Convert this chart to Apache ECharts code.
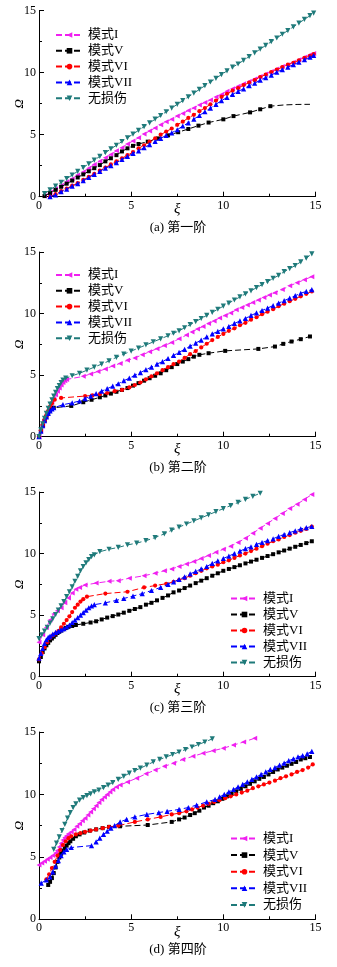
<!DOCTYPE html>
<html><head><meta charset="utf-8">
<script src="https://cdn.jsdelivr.net/npm/echarts@6/dist/echarts.min.js"></script>
<style>html,body{margin:0;padding:0;background:#fff}#c{width:337px;height:967px}</style>
</head><body><div id="c"></div>
<script>
const seriesNames = ['模式I','模式V','模式VI','模式VII','无损伤'];
const captions = ['(a) 第一阶','(b) 第二阶','(c) 第三阶','(d) 第四阶'];
const xTicks = [0,5,10,15];
const yTicks = [0,5,10,15];

// ---- Panel (a) ----
const a_I = [[0.3,0.05],[0.6,0.35],[0.9,0.65],[1.2,0.9],[1.5,1.2],[1.8,1.45],[2.1,1.75],[2.4,2.0],[2.7,2.3],[3.0,2.6],[3.3,2.85],[3.6,3.15],[3.9,3.4],[4.2,3.7],[4.5,3.95],[4.8,4.25],[5.1,4.5],[5.4,4.75],[5.7,5.05],[6.0,5.3],[6.3,5.55],[6.6,5.8],[6.9,6.05],[7.2,6.25],[7.5,6.5],[7.8,6.7],[8.1,6.95],[8.4,7.15],[8.7,7.4],[9.0,7.6],[9.3,7.8],[9.6,8.05],[9.9,8.25],[10.2,8.5],[10.5,8.7],[10.8,8.9],[11.1,9.1],[11.4,9.3],[11.7,9.5],[12.0,9.7],[12.3,9.9],[12.6,10.1],[12.9,10.3],[13.2,10.5],[13.5,10.65],[13.8,10.85],[14.1,11.05],[14.4,11.25],[14.7,11.45],[14.9,11.55]];
const a_V = [[0.3,0.05],[0.6,0.3],[0.9,0.55],[1.2,0.8],[1.5,1.05],[1.8,1.3],[2.1,1.55],[2.4,1.8],[2.7,2.05],[3.0,2.3],[3.3,2.55],[3.6,2.85],[3.9,3.1],[4.2,3.35],[4.5,3.65],[4.8,3.9],[5.1,4.1],[5.4,4.25],[5.9,4.44],[6.45,4.7],[7.0,4.95],[7.55,5.2],[8.1,5.46],[8.65,5.73],[9.2,5.98],[10.0,6.24],[10.55,6.5],[11.45,6.8],[12.0,7.05],[12.55,7.3]];
const a_V_tail = [[13.3,7.4],[14.0,7.44],[14.7,7.45]];
const a_VI = [[0.6,0],[0.9,0.2],[1.2,0.45],[1.5,0.65],[1.8,0.9],[2.1,1.1],[2.4,1.35],[2.7,1.6],[3.0,1.85],[3.3,2.1],[3.6,2.35],[3.9,2.6],[4.2,2.85],[4.5,3.1],[4.8,3.35],[5.1,3.6],[5.4,3.9],[5.7,4.15],[6.0,4.45],[6.3,4.7],[6.6,5.0],[6.9,5.25],[7.2,5.5],[7.5,5.8],[7.8,6.05],[8.1,6.35],[8.4,6.6],[8.7,6.9],[9.0,7.15],[9.3,7.45],[9.6,7.75],[9.9,8.05],[10.2,8.3],[10.5,8.55],[10.8,8.75],[11.1,9.0],[11.4,9.2],[11.7,9.4],[12.0,9.65],[12.3,9.85],[12.6,10.05],[12.9,10.25],[13.2,10.45],[13.5,10.65],[13.8,10.8],[14.1,11.0],[14.4,11.2],[14.7,11.35],[14.9,11.5]];
const a_VII = [[0.6,0],[0.9,0.15],[1.2,0.4],[1.5,0.6],[1.8,0.85],[2.1,1.05],[2.4,1.3],[2.7,1.55],[3.0,1.8],[3.3,2.05],[3.6,2.3],[3.9,2.5],[4.2,2.75],[4.5,3.0],[4.8,3.25],[5.1,3.5],[5.4,3.7],[5.7,3.95],[6.0,4.2],[6.3,4.45],[6.6,4.7],[6.9,4.95],[7.2,5.15],[7.5,5.4],[7.8,5.7],[8.1,5.95],[8.4,6.25],[8.7,6.55],[9.0,6.85],[9.3,7.15],[9.6,7.45],[9.9,7.75],[10.2,8.0],[10.5,8.25],[10.8,8.5],[11.1,8.7],[11.4,8.95],[11.7,9.15],[12.0,9.4],[12.3,9.6],[12.6,9.8],[12.9,10.05],[13.2,10.25],[13.5,10.45],[13.8,10.65],[14.1,10.85],[14.4,11.05],[14.7,11.25],[14.9,11.4]];
const a_N = [[0.3,0.25],[0.6,0.55],[0.9,0.85],[1.2,1.15],[1.5,1.45],[1.8,1.75],[2.1,2.05],[2.4,2.35],[2.7,2.65],[3.0,2.95],[3.3,3.25],[3.6,3.55],[3.9,3.85],[4.2,4.15],[4.5,4.45],[4.8,4.75],[5.1,5.05],[5.4,5.35],[5.7,5.65],[6.0,5.95],[6.3,6.25],[6.6,6.55],[6.9,6.85],[7.2,7.15],[7.5,7.45],[7.8,7.75],[8.1,8.05],[8.4,8.35],[8.7,8.65],[9.0,8.95],[9.3,9.25],[9.6,9.55],[9.9,9.85],[10.2,10.15],[10.5,10.45],[10.8,10.7],[11.1,11.0],[11.4,11.3],[11.7,11.6],[12.0,11.9],[12.3,12.2],[12.6,12.5],[12.9,12.8],[13.2,13.1],[13.5,13.4],[13.8,13.7],[14.1,14.0],[14.4,14.3],[14.7,14.6],[14.9,14.8]];

// ---- Panel (b) ----
const b_I = [[0,0],[0.1,0.5],[0.2,0.95],[0.3,1.35],[0.4,1.75],[0.5,2.1],[0.6,2.45],[0.7,2.8],[0.8,3.1],[0.9,3.4],[1.0,3.7],[1.1,3.95],[1.2,4.2],[1.3,4.4],[1.4,4.55],[1.5,4.65],[2.4,4.9],[2.8,5.1],[3.2,5.3],[3.6,5.5],[4.0,5.75],[4.4,5.95],[4.8,6.2],[5.2,6.4],[5.6,6.65],[6.0,6.9],[6.4,7.15],[6.8,7.4],[7.2,7.65],[7.6,7.95],[8.0,8.25],[8.3,8.5],[8.6,8.75],[8.9,8.95],[9.2,9.2],[9.5,9.4],[9.8,9.65],[10.1,9.85],[10.4,10.05],[10.7,10.3],[11.0,10.5],[11.3,10.7],[11.6,10.9],[11.9,11.1],[12.2,11.3],[12.5,11.5],[12.8,11.7],[13.2,11.95],[13.6,12.25],[14.0,12.5],[14.4,12.75],[14.8,13.0]];
const b_V = [[0,0],[0.1,0.45],[0.2,0.9],[0.3,1.3],[0.4,1.6],[0.5,1.9],[0.6,2.1],[0.7,2.25],[0.8,2.35],[1.75,2.5],[2.4,2.8],[2.85,3.0],[3.3,3.2],[3.6,3.35],[3.9,3.5],[4.2,3.65],[4.5,3.8],[4.8,3.95],[5.1,4.15],[5.4,4.35],[5.7,4.55],[6.0,4.75],[6.3,4.95],[6.6,5.15],[6.9,5.4],[7.2,5.65],[7.5,5.9],[7.8,6.1],[8.1,6.3],[8.4,6.5],[8.7,6.65],[9.2,6.78],[10.1,6.97],[11.9,7.13],[12.8,7.32],[13.25,7.54],[13.7,7.73],[14.2,7.92],[14.7,8.14]];
const b_VI = [[0,0],[0.1,0.5],[0.2,0.95],[0.3,1.35],[0.4,1.75],[0.5,2.1],[0.6,2.45],[0.7,2.7],[0.85,3.0],[1.2,3.15],[2.5,3.3],[2.9,3.35],[3.3,3.45],[3.7,3.55],[4.1,3.7],[4.5,3.8],[4.9,4.0],[5.2,4.2],[5.5,4.4],[5.8,4.65],[6.1,4.9],[6.4,5.15],[6.7,5.4],[7.0,5.65],[7.3,5.9],[7.6,6.1],[7.9,6.4],[8.2,6.7],[8.5,6.95],[8.8,7.25],[9.1,7.55],[9.4,7.85],[9.7,8.1],[10.0,8.35],[10.3,8.6],[10.6,8.8],[10.9,9.05],[11.2,9.25],[11.5,9.5],[11.8,9.7],[12.1,9.95],[12.4,10.15],[12.7,10.35],[13.0,10.6],[13.3,10.8],[13.6,11.0],[13.9,11.2],[14.2,11.4],[14.5,11.6],[14.8,11.8]];
const b_VII = [[0,0],[0.1,0.45],[0.2,0.9],[0.3,1.3],[0.4,1.6],[0.5,1.9],[0.6,2.1],[0.7,2.25],[0.8,2.35],[1.3,2.6],[1.8,2.75],[2.2,2.9],[2.5,3.1],[2.8,3.3],[3.1,3.5],[3.4,3.7],[3.7,3.9],[4.0,4.1],[4.3,4.3],[4.6,4.55],[4.9,4.75],[5.2,5.0],[5.5,5.2],[5.8,5.45],[6.1,5.65],[6.4,5.9],[6.7,6.1],[7.0,6.35],[7.3,6.6],[7.6,6.85],[7.9,7.1],[8.2,7.35],[8.5,7.6],[8.8,7.85],[9.1,8.1],[9.4,8.35],[9.7,8.55],[10.0,8.75],[10.3,8.95],[10.6,9.2],[10.9,9.4],[11.2,9.6],[11.5,9.85],[11.8,10.05],[12.1,10.25],[12.4,10.45],[12.7,10.65],[13.0,10.85],[13.3,11.05],[13.6,11.25],[13.9,11.45],[14.2,11.65],[14.5,11.8],[14.8,11.95]];
const b_N = [[0,0],[0.1,0.55],[0.2,1.05],[0.3,1.5],[0.4,1.9],[0.5,2.3],[0.6,2.65],[0.7,3.0],[0.8,3.3],[0.9,3.6],[1.0,3.9],[1.1,4.15],[1.2,4.4],[1.3,4.6],[1.45,4.75],[1.8,4.95],[2.2,5.15],[2.6,5.4],[3.0,5.65],[3.4,5.9],[3.8,6.15],[4.2,6.45],[4.6,6.7],[5.0,6.95],[5.4,7.2],[5.8,7.45],[6.2,7.7],[6.6,7.95],[7.0,8.2],[7.3,8.4],[7.6,8.6],[7.9,8.85],[8.2,9.1],[8.5,9.35],[8.8,9.6],[9.1,9.85],[9.4,10.1],[9.7,10.35],[10.0,10.6],[10.3,10.85],[10.6,11.1],[10.9,11.35],[11.2,11.6],[11.5,11.85],[11.8,12.1],[12.1,12.35],[12.4,12.6],[12.7,12.85],[13.0,13.1],[13.3,13.4],[13.6,13.65],[13.9,13.9],[14.2,14.2],[14.5,14.5],[14.8,14.85]];

// ---- Panel (c) ----
const c_I = [[0,2.8],[0.2,3.4],[0.4,4.0],[0.6,4.6],[0.8,5.1],[1.0,5.35],[1.2,5.6],[1.4,6.0],[1.6,6.4],[1.8,6.8],[2.0,7.1],[2.2,7.25],[2.5,7.45],[3.1,7.6],[3.8,7.75],[4.3,7.8],[4.9,8.0],[5.7,8.2],[6.3,8.4],[6.8,8.6],[7.2,8.75],[7.6,8.95],[8.0,9.15],[8.4,9.35],[8.8,9.6],[9.2,9.85],[9.6,10.1],[10.0,10.35],[10.4,10.6],[10.8,10.9],[11.2,11.25],[11.6,11.65],[12.0,12.05],[12.4,12.45],[12.8,12.85],[13.2,13.25],[13.6,13.65],[14.0,14.0],[14.4,14.4],[14.8,14.8]];
const c_V = [[0,1.25],[0.1,1.6],[0.2,2.0],[0.3,2.3],[0.4,2.55],[0.5,2.75],[0.6,2.95],[0.7,3.1],[0.8,3.25],[0.9,3.4],[1.0,3.55],[1.1,3.65],[1.2,3.75],[1.3,3.85],[1.45,3.95],[1.6,4.05],[1.8,4.12],[2.0,4.2],[2.4,4.3],[2.8,4.4],[3.1,4.5],[3.4,4.65],[3.7,4.8],[4.0,4.92],[4.3,5.05],[4.6,5.2],[4.9,5.35],[5.2,5.5],[5.5,5.65],[5.8,5.85],[6.1,6.0],[6.4,6.2],[6.7,6.4],[7.0,6.6],[7.3,6.85],[7.6,7.0],[7.9,7.2],[8.2,7.4],[8.5,7.6],[8.8,7.8],[9.1,8.0],[9.4,8.2],[9.7,8.4],[10.0,8.6],[10.3,8.75],[10.6,8.9],[10.9,9.05],[11.2,9.2],[11.5,9.35],[11.8,9.5],[12.1,9.65],[12.4,9.8],[12.7,9.95],[13.0,10.1],[13.3,10.25],[13.6,10.4],[13.9,10.55],[14.2,10.7],[14.5,10.85],[14.8,11.0]];
const c_VI = [[0,1.4],[0.15,1.9],[0.3,2.4],[0.45,2.8],[0.6,3.15],[0.75,3.35],[0.9,3.5],[1.05,3.7],[1.2,4.0],[1.35,4.3],[1.5,4.6],[1.65,4.9],[1.8,5.25],[1.95,5.6],[2.1,5.85],[2.25,6.1],[2.4,6.3],[2.6,6.5],[3.6,6.75],[4.8,6.9],[5.7,7.25],[6.3,7.4],[6.9,7.55],[7.3,7.7],[7.6,7.85],[7.9,8.0],[8.2,8.2],[8.5,8.4],[8.8,8.6],[9.1,8.8],[9.4,8.95],[9.7,9.1],[10.0,9.3],[10.3,9.45],[10.6,9.65],[10.9,9.85],[11.2,10.0],[11.5,10.2],[11.8,10.4],[12.1,10.6],[12.4,10.8],[12.7,11.0],[13.0,11.15],[13.3,11.35],[13.6,11.5],[13.9,11.7],[14.2,11.85],[14.5,12.0],[14.8,12.2]];
const c_VII = [[0,1.5],[0.1,1.9],[0.2,2.3],[0.3,2.7],[0.4,3.0],[0.5,3.2],[0.6,3.3],[0.75,3.45],[0.9,3.6],[1.05,3.7],[1.2,3.8],[1.35,3.9],[1.5,4.05],[1.65,4.2],[1.8,4.4],[1.95,4.6],[2.1,4.8],[2.25,5.0],[2.4,5.2],[2.55,5.4],[2.7,5.6],[2.85,5.75],[3.0,5.85],[3.6,6.0],[4.2,6.2],[4.6,6.35],[5.1,6.55],[5.6,6.75],[6.1,7.0],[6.6,7.25],[7.0,7.5],[7.3,7.7],[7.6,7.9],[7.9,8.1],[8.2,8.35],[8.5,8.55],[8.8,8.75],[9.1,8.95],[9.4,9.2],[9.7,9.4],[10.0,9.6],[10.3,9.8],[10.6,10.0],[10.9,10.2],[11.2,10.4],[11.5,10.55],[11.8,10.75],[12.1,10.9],[12.4,11.05],[12.7,11.2],[13.0,11.4],[13.3,11.55],[13.6,11.7],[13.9,11.85],[14.2,12.0],[14.5,12.1],[14.8,12.2]];
const c_N = [[0,3.1],[0.15,3.4],[0.3,3.7],[0.45,4.0],[0.6,4.35],[0.75,4.7],[0.9,5.05],[1.05,5.4],[1.2,5.75],[1.35,6.1],[1.5,6.5],[1.65,6.9],[1.8,7.3],[1.95,7.75],[2.1,8.15],[2.25,8.6],[2.4,8.95],[2.55,9.25],[2.7,9.5],[2.85,9.75],[3.0,9.9],[3.3,10.15],[3.8,10.35],[4.3,10.5],[4.8,10.7],[5.3,10.85],[5.8,11.05],[6.3,11.3],[6.8,11.6],[7.2,11.9],[7.6,12.15],[8.0,12.4],[8.4,12.65],[8.8,12.9],[9.2,13.15],[9.6,13.4],[10.0,13.65],[10.4,13.9],[10.8,14.15],[11.2,14.4],[11.6,14.65],[12.0,14.9]];

// ---- Panel (d) ----
const d_I = [[0,4.35],[0.15,4.5],[0.3,4.65],[0.45,4.8],[0.6,4.95],[0.75,5.1],[0.9,5.3],[1.0,5.5],[1.1,5.8],[1.2,6.1],[1.3,6.35],[1.4,6.55],[1.5,6.7],[1.6,6.85],[1.75,7.0],[1.9,7.2],[2.05,7.45],[2.2,7.65],[2.35,7.9],[2.5,8.1],[2.65,8.35],[2.8,8.6],[2.95,8.85],[3.1,9.1],[3.25,9.35],[3.4,9.6],[3.55,9.8],[3.7,10.0],[3.85,10.2],[4.0,10.4],[4.2,10.6],[4.4,10.75],[4.8,11.0],[5.3,11.3],[5.8,11.65],[6.3,11.95],[6.8,12.25],[7.3,12.5],[7.8,12.8],[8.35,13.05],[8.9,13.3],[9.45,13.5],[10.0,13.7],[10.55,13.95],[11.1,14.2],[11.7,14.5]];
const d_V = [[0.5,2.75],[0.6,3.0],[0.7,3.3],[0.8,3.7],[0.9,4.15],[1.0,4.6],[1.1,4.95],[1.2,5.25],[1.3,5.5],[1.4,5.7],[1.5,5.9],[1.6,6.1],[1.7,6.25],[1.85,6.45],[2.0,6.65],[2.2,6.8],[2.45,6.95],[2.75,7.1],[3.1,7.2],[3.45,7.3],[3.8,7.4],[4.4,7.45],[5.9,7.55],[7.2,7.8],[7.6,8.0],[7.9,8.15],[8.2,8.35],[8.45,8.5],[8.7,8.7],[8.95,8.95],[9.2,9.1],[9.45,9.3],[9.7,9.45],[9.95,9.65],[10.2,9.85],[10.45,10.05],[10.7,10.25],[10.95,10.45],[11.2,10.65],[11.45,10.85],[11.7,11.05],[11.95,11.25],[12.2,11.4],[12.45,11.6],[12.7,11.8],[12.95,12.0],[13.2,12.15],[13.45,12.3],[13.7,12.45],[13.95,12.6],[14.2,12.8],[14.45,12.9],[14.7,13.0]];
const d_VI = [[0.4,3.2],[0.55,3.6],[0.7,4.1],[0.85,4.6],[1.0,5.1],[1.15,5.55],[1.3,5.95],[1.45,6.25],[1.6,6.5],[1.75,6.65],[2.0,6.8],[2.25,6.9],[2.5,7.0],[2.8,7.1],[3.1,7.2],[3.45,7.3],[3.8,7.4],[4.3,7.5],[5.2,7.8],[5.9,8.0],[6.6,8.2],[7.2,8.4],[7.6,8.5],[8.0,8.65],[8.3,8.8],[8.6,8.95],[8.9,9.1],[9.2,9.25],[9.5,9.4],[9.8,9.55],[10.1,9.7],[10.4,9.85],[10.7,10.0],[11.0,10.15],[11.3,10.3],[11.6,10.5],[11.9,10.65],[12.2,10.8],[12.5,10.95],[12.8,11.1],[13.1,11.3],[13.4,11.45],[13.7,11.6],[14.0,11.8],[14.3,11.95],[14.6,12.15],[14.85,12.4]];
const d_VII = [[0.12,2.9],[0.4,3.15],[0.6,3.4],[0.75,3.8],[0.9,4.25],[1.05,4.7],[1.2,5.1],[1.35,5.4],[1.5,5.6],[1.75,5.75],[2.85,5.9],[3.1,6.2],[3.3,6.5],[3.5,6.8],[3.7,7.05],[3.9,7.3],[4.1,7.5],[4.4,7.8],[4.75,8.0],[5.2,8.2],[5.85,8.4],[6.5,8.55],[6.95,8.65],[7.6,8.8],[8.1,8.95],[8.55,9.15],[9.1,9.4],[9.55,9.6],[9.8,9.8],[10.05,10.0],[10.3,10.2],[10.55,10.4],[10.8,10.6],[11.05,10.8],[11.3,11.0],[11.55,11.2],[11.8,11.4],[12.05,11.6],[12.3,11.8],[12.55,12.0],[12.8,12.15],[13.05,12.35],[13.3,12.5],[13.55,12.7],[13.8,12.85],[14.05,13.0],[14.3,13.1],[14.55,13.25],[14.8,13.45]];
const d_N = [[0.8,5.6],[0.95,6.1],[1.1,6.6],[1.25,7.1],[1.4,7.6],[1.55,8.1],[1.7,8.55],[1.85,8.95],[2.0,9.25],[2.2,9.55],[2.4,9.75],[2.6,9.9],[2.8,10.05],[3.0,10.2],[3.25,10.35],[3.5,10.55],[3.75,10.75],[4.0,10.95],[4.3,11.2],[4.6,11.45],[4.9,11.7],[5.2,11.9],[5.5,12.1],[5.85,12.35],[6.2,12.6],[6.55,12.8],[6.9,13.0],[7.25,13.2],[7.6,13.4],[7.95,13.6],[8.3,13.8],[8.65,14.0],[9.0,14.2],[9.4,14.45]];

const panelData = [
  [a_I, a_V, a_VI, a_VII, a_N],
  [b_I, b_V, b_VI, b_VII, b_N],
  [c_I, c_V, c_VI, c_VII, c_N],
  [d_I, d_V, d_VI, d_VII, d_N]
];

const FONT = "'Liberation Serif','Noto Sans CJK SC',serif";
const colors = ['#f020f0','#000000','#ff0000','#0000ff','#1f7a7a'];
const symbols = ['path://M0,5L10,0L10,10Z','rect','circle','triangle','path://M0,0L10,0L5,10Z'];
const symSizes = [5,4,4.2,5.2,5.2];

const gridTops = [10.7, 252, 492, 732];
const gridHeights = [186, 184.7, 184.7, 187.3];
const captionY = [228, 468, 708, 950];
const legendPos = [
  {left:55, top:28.5, gap:2.8},
  {left:55, top:268.5, gap:2.8},
  {left:230, top:592, gap:3},
  {left:230, top:832, gap:3.6}
];

const grids = [], xAxes = [], yAxes = [], series = [], legends = [], graphics = [];
for (let p = 0; p < 4; p++) {
  grids.push({left:39, right:21.5, top:gridTops[p], height:gridHeights[p], containLabel:false, outerBoundsMode:'none'});
  xAxes.push({
    type:'value', gridIndex:p, min:xTicks[0], max:xTicks[xTicks.length-1], interval:5,
    name:'ξ', nameLocation:'middle', nameGap:5, nameMoveOverlap:false,
    nameTextStyle:{fontFamily:FONT, fontStyle:'italic', fontSize:15, color:'#000'},
    axisLine:{show:true, onZero:false, lineStyle:{color:'#000', width:1}},
    axisTick:{show:true, inside:true, length:5, lineStyle:{color:'#000'}},
    minorTick:{show:true, splitNumber:2, length:3, lineStyle:{color:'#000'}},
    axisLabel:{fontFamily:FONT, fontSize:12, color:'#000', margin:3},
    splitLine:{show:false}
  });
  yAxes.push({
    type:'value', gridIndex:p, min:yTicks[0], max:yTicks[yTicks.length-1], interval:5,
    name:'Ω', nameLocation:'middle', nameGap:13, nameMoveOverlap:false,
    nameTextStyle:{fontFamily:FONT, fontStyle:'italic', fontSize:13, color:'#000'},
    axisLine:{show:true, onZero:false, lineStyle:{color:'#000', width:1}},
    axisTick:{show:true, inside:true, length:5, lineStyle:{color:'#000'}},
    minorTick:{show:true, splitNumber:2, length:3, lineStyle:{color:'#000'}},
    axisLabel:{fontFamily:FONT, fontSize:12, color:'#000', margin:3},
    splitLine:{show:false}
  });
  for (let s = 0; s < 5; s++) {
    let data = panelData[p][s].slice();
    if (p === 0 && s === 1) {
      data = data.concat(a_V_tail.map(v => ({value:v, symbol:'none'})));
    }
    series.push({
      type:'line', name:seriesNames[s], xAxisIndex:p, yAxisIndex:p,
      data:data, symbol:symbols[s], symbolSize:symSizes[s], showSymbol:true,
      itemStyle:{color:colors[s]},
      lineStyle:{color:colors[s], width:1, type:[6,3]},
      emphasis:{disabled:true}, silent:true, z:2+s
    });
  }
  const lp = legendPos[p];
  legends.push({
    orient:'vertical', left:lp.left, top:lp.top, itemGap:lp.gap,
    itemWidth:27, itemHeight:7, padding:0,
    data:seriesNames.slice(),
    textStyle:{fontFamily:FONT, fontSize:13, color:'#000'},
    selectedMode:false
  });
  graphics.push({
    type:'text', x:178, y:captionY[p],
    style:{text:captions[p], font:"13px 'Liberation Serif','Noto Sans CJK SC',serif", fill:'#000', align:'center', verticalAlign:'middle'}
  });
}

const chart = echarts.init(document.getElementById('c'), null, {renderer:'canvas'});
chart.setOption({
  animation:false,
  backgroundColor:'#fff',
  grid:grids, xAxis:xAxes, yAxis:yAxes, series:series, legend:legends, graphic:graphics
});
</script>
</body></html>
